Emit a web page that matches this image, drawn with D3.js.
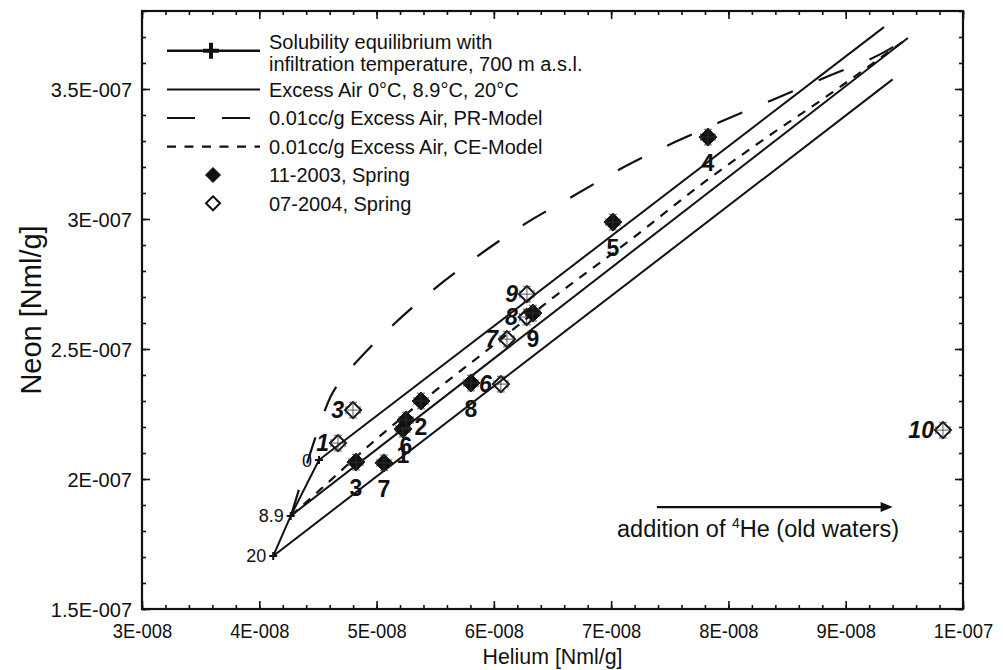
<!DOCTYPE html>
<html><head><meta charset="utf-8">
<script src="https://cdn.jsdelivr.net/npm/d3@7"></script>
<style>
body{margin:0;background:#fff}
svg{display:block}
text{font-family:Arial,"Liberation Sans",Helvetica,sans-serif;fill:#111}
</style>
</head><body>
<svg id="c" width="1003" height="670"></svg>
<script>
// ---------- data ----------
const xTickValues = [3e-8, 4e-8, 5e-8, 6e-8, 7e-8, 8e-8, 9e-8, 1e-7];
const xTickLabels = ["3E-008","4E-008","5E-008","6E-008","7E-008","8E-008","9E-008","1E-007"];
const yTickValues = [1.5e-7, 2e-7, 2.5e-7, 3e-7, 3.5e-7];
const yTickLabels = ["1.5E-007","2E-007","2.5E-007","3E-007","3.5E-007"];

// solubility equilibrium (700 m a.s.l.)
const eqTemps = ["0", "8.9", "20"];
const eqHe = [4.509e-8, 4.268e-8, 4.119e-8];
const eqNe = [2.073e-7, 1.858e-7, 1.704e-7];
// excess air (unfractionated) line end points, 0 / 8.9 / 20 °C
const eaEndHe = [9.326e-8, 9.530e-8, 9.40e-8];
const eaEndNe = [3.738e-7, 3.696e-7, 3.537e-7];

// 0.01cc/g excess air, PR-model
const prHe = [4.270e-8, 4.390e-8, 4.500e-8, 4.603e-8, 4.731e-8, 4.867e-8, 5.114e-8, 5.481e-8, 5.864e-8, 6.265e-8, 6.691e-8, 7.109e-8, 7.544e-8, 7.928e-8, 8.354e-8, 8.865e-8, 9.300e-8, 9.530e-8];
const prNe = [1.858e-7, 2.035e-7, 2.188e-7, 2.312e-7, 2.400e-7, 2.469e-7, 2.581e-7, 2.727e-7, 2.858e-7, 2.981e-7, 3.092e-7, 3.200e-7, 3.296e-7, 3.373e-7, 3.454e-7, 3.552e-7, 3.635e-7, 3.696e-7];
// 0.01cc/g excess air, CE-model
const ceHe = [4.270e-8, 4.517e-8, 4.969e-8, 5.455e-8, 5.967e-8, 6.478e-8, 7.143e-8, 7.783e-8, 8.209e-8, 8.880e-8, 9.530e-8];
const ceNe = [1.858e-7, 1.958e-7, 2.142e-7, 2.323e-7, 2.504e-7, 2.688e-7, 2.912e-7, 3.138e-7, 3.277e-7, 3.485e-7, 3.696e-7];

// 11-2003, Spring (filled)
const s2003Labels = ["1","2","3","4","5","6","7","8","9"];
const s2003He = [5.225e-8, 5.379e-8, 4.824e-8, 7.825e-8, 7.015e-8, 5.251e-8, 5.063e-8, 5.805e-8, 6.333e-8];
const s2003Ne = [2.192e-7, 2.300e-7, 2.065e-7, 3.315e-7, 2.988e-7, 2.227e-7, 2.062e-7, 2.369e-7, 2.638e-7];
const s2003HeErr = [0.06e-8, 0.06e-8, 0.06e-8, 0.06e-8, 0.06e-8, 0.06e-8, 0.06e-8, 0.06e-8, 0.06e-8];
const s2003NeErr = [0.03e-7, 0.03e-7, 0.03e-7, 0.03e-7, 0.03e-7, 0.03e-7, 0.03e-7, 0.03e-7, 0.03e-7];
// 07-2004, Spring (open)
const s2004Labels = ["1","3","6","7","8","9","10"];
const s2004He = [4.671e-8, 4.799e-8, 6.060e-8, 6.112e-8, 6.280e-8, 6.282e-8, 9.829e-8];
const s2004Ne = [2.138e-7, 2.265e-7, 2.365e-7, 2.538e-7, 2.623e-7, 2.711e-7, 2.188e-7];
const s2004HeErr = [0.06e-8, 0.06e-8, 0.06e-8, 0.06e-8, 0.06e-8, 0.06e-8, 0.06e-8];
const s2004NeErr = [0.03e-7, 0.03e-7, 0.03e-7, 0.03e-7, 0.03e-7, 0.03e-7, 0.03e-7];

const legendLabels = [
  ["Solubility equilibrium with", "infiltration temperature, 700 m a.s.l."],
  ["Excess Air 0°C, 8.9°C, 20°C"],
  ["0.01cc/g Excess Air, PR-Model"],
  ["0.01cc/g Excess Air, CE-Model"],
  ["11-2003, Spring"],
  ["07-2004, Spring"]
];
const arrowFromHe = 7.39e-8, arrowToHe = 9.40e-8, arrowNe = 1.892e-7;

// ---------- layout ----------
const L = 142, R = 963, T = 11, B = 609;
const svg = d3.select("#c");
const x = d3.scaleLinear().domain([3e-8, 1e-7]).range([L, R]);
const y = d3.scaleLinear().domain([1.5e-7, 3.8e-7]).range([B, T]);
const INK = "#111";

svg.append("defs").append("clipPath").attr("id","clip")
  .append("rect").attr("x",L).attr("y",T).attr("width",R-L).attr("height",B-T);
const plot = svg.append("g").attr("clip-path","url(#clip)");

const line = d3.line().x(d=>x(d[0])).y(d=>y(d[1]));
const curve = d3.line().x(d=>x(d[0])).y(d=>y(d[1])).curve(d3.curveMonotoneX);

// excess-air lines
eqHe.forEach((h,i)=>{
  plot.append("path").attr("d", line([[h, eqNe[i]],[eaEndHe[i], eaEndNe[i]]]))
    .attr("fill","none").attr("stroke",INK).attr("stroke-width",2);
});
// PR model
plot.append("path").attr("d", curve(prHe.map((h,i)=>[h,prNe[i]])))
  .attr("fill","none").attr("stroke",INK).attr("stroke-width",2.2).attr("stroke-dasharray","27,28");
// CE model
plot.append("path").attr("d", curve(ceHe.map((h,i)=>[h,ceNe[i]])))
  .attr("fill","none").attr("stroke",INK).attr("stroke-width",2.2).attr("stroke-dasharray","9,8");
// equilibrium line
plot.append("path").attr("d", line(eqHe.map((h,i)=>[h,eqNe[i]])))
  .attr("fill","none").attr("stroke",INK).attr("stroke-width",2);
eqHe.forEach((h,i)=>{
  const cx = x(h), cy = y(eqNe[i]);
  plot.append("path").attr("d",`M${cx-4},${cy}H${cx+4}M${cx},${cy-4}V${cy+4}`)
    .attr("stroke",INK).attr("stroke-width",2);
  svg.append("text").attr("x",cx-7).attr("y",cy).attr("dy","0.36em")
    .attr("text-anchor","end").attr("font-size",18).text(eqTemps[i]);
});

function diamond(g, cx, cy, r, filled){
  g.append("path").attr("d",`M${cx},${cy-r}L${cx+r},${cy}L${cx},${cy+r}L${cx-r},${cy}Z`)
    .attr("fill", filled ? INK : "none").attr("stroke",INK)
    .attr("stroke-width", filled ? 1 : 2);
}
function errbar(g, cx, cy, ex, ey){
  const c = 4;
  g.append("path").attr("d",
    `M${cx-ex},${cy}H${cx+ex}M${cx-ex},${cy-c}V${cy+c}M${cx+ex},${cy-c}V${cy+c}` +
    `M${cx},${cy-ey}V${cy+ey}M${cx-c},${cy-ey}H${cx+c}M${cx-c},${cy+ey}H${cx+c}`)
    .attr("fill","none").attr("stroke","#333").attr("stroke-width",0.8);
}

// open series
s2004He.forEach((h,i)=>{
  const cx = x(h), cy = y(s2004Ne[i]);
  diamond(plot, cx, cy, 8, false);
  errbar(plot, cx, cy, x(h+s2004HeErr[i])-cx, cy-y(s2004Ne[i]+s2004NeErr[i]));
  svg.append("text").attr("x",cx-9).attr("y",cy).attr("dy","0.36em")
    .attr("text-anchor","end").attr("font-size",23).attr("font-weight","bold")
    .attr("font-style","italic").text(s2004Labels[i]);
});
// filled series
s2003He.forEach((h,i)=>{
  const cx = x(h), cy = y(s2003Ne[i]);
  diamond(plot, cx, cy, 9, true);
  errbar(plot, cx, cy, x(h+s2003HeErr[i])-cx, cy-y(s2003Ne[i]+s2003NeErr[i]));
  svg.append("text").attr("x",cx).attr("y",cy+26).attr("dy","0.36em")
    .attr("text-anchor","middle").attr("font-size",23).attr("font-weight","bold")
    .text(s2003Labels[i]);
});

// ---------- axes ----------
const xMinor = d3.range(30, 101, 2).map(v=>v*1e-9);
const yMinor = d3.range(15, 39, 1).map(v=>v*1e-8);
function styleAxis(g){ g.select(".domain").remove(); g.selectAll("line").attr("stroke",INK).attr("stroke-width",1.6); }

svg.append("g").attr("transform",`translate(0,${B})`)
  .call(d3.axisBottom(x).tickValues(xMinor).tickSize(-4).tickFormat("")).call(styleAxis);
svg.append("g").attr("transform",`translate(0,${T})`)
  .call(d3.axisTop(x).tickValues(xMinor).tickSize(-4).tickFormat("")).call(styleAxis);
svg.append("g").attr("transform",`translate(${L},0)`)
  .call(d3.axisLeft(y).tickValues(yMinor).tickSize(-4).tickFormat("")).call(styleAxis);
svg.append("g").attr("transform",`translate(${R},0)`)
  .call(d3.axisRight(y).tickValues(yMinor).tickSize(-4).tickFormat("")).call(styleAxis);

const xb = svg.append("g").attr("transform",`translate(0,${B})`)
  .call(d3.axisBottom(x).tickValues(xTickValues).tickSize(-8)
    .tickFormat((d,i)=>xTickLabels[i])).call(styleAxis);
xb.selectAll("text").attr("y",15).attr("dy","0.71em").attr("font-size",20)
  .attr("font-family","Arial, 'Liberation Sans', sans-serif").attr("fill","#111")
  .attr("transform","scale(0.92,1)");
svg.append("g").attr("transform",`translate(0,${T})`)
  .call(d3.axisTop(x).tickValues(xTickValues).tickSize(-8).tickFormat("")).call(styleAxis);
const yl = svg.append("g").attr("transform",`translate(${L},0)`)
  .call(d3.axisLeft(y).tickValues(yTickValues).tickSize(-8)
    .tickFormat((d,i)=>yTickLabels[i])).call(styleAxis);
yl.selectAll("text").attr("x",-10).attr("dy","0.36em").attr("font-size",20)
  .attr("font-family","Arial, 'Liberation Sans', sans-serif").attr("fill","#111");
svg.append("g").attr("transform",`translate(${R},0)`)
  .call(d3.axisRight(y).tickValues(yTickValues).tickSize(-8).tickFormat("")).call(styleAxis);

svg.append("rect").attr("x",L).attr("y",T).attr("width",R-L).attr("height",B-T)
  .attr("fill","none").attr("stroke",INK).attr("stroke-width",2.2);

// axis titles
svg.append("text").attr("transform",`translate(${(L+R)/2},664) scale(0.95,1)`)
  .attr("text-anchor","middle").attr("font-size",22.5).text("Helium [Nml/g]");
svg.append("text").attr("transform",`translate(41,${(T+B)/2}) rotate(-90)`)
  .attr("text-anchor","middle").attr("font-size",29).text("Neon [Nml/g]");

// ---------- legend ----------
const lg = svg.append("g");
const lx0 = 167, lx1 = 260, tx = 269;
const rowY = [50.7, 89.5, 118, 146.7, 175, 203.3];
lg.append("line").attr("x1",lx0).attr("x2",lx1).attr("y1",rowY[0]).attr("y2",rowY[0]).attr("stroke",INK).attr("stroke-width",2.4);
lg.append("path").attr("d",`M${211-8},${rowY[0]}H${211+8}M211,${rowY[0]-8}V${rowY[0]+8}`).attr("stroke",INK).attr("stroke-width",4);
lg.append("line").attr("x1",lx0).attr("x2",lx1).attr("y1",rowY[1]).attr("y2",rowY[1]).attr("stroke",INK).attr("stroke-width",2.2);
lg.append("line").attr("x1",lx0).attr("x2",lx1).attr("y1",rowY[2]).attr("y2",rowY[2]).attr("stroke",INK).attr("stroke-width",2.2).attr("stroke-dasharray","28,27");
lg.append("line").attr("x1",lx0).attr("x2",lx1).attr("y1",rowY[3]).attr("y2",rowY[3]).attr("stroke",INK).attr("stroke-width",2.2).attr("stroke-dasharray","9,8.5");
diamond(lg, 213, rowY[4], 7.5, true);
diamond(lg, 213, rowY[5], 7, false);
lg.append("text").attr("x",tx).attr("y",41.7).attr("dy","0.36em").attr("font-size",20).text(legendLabels[0][0]);
lg.append("text").attr("x",tx).attr("y",63.3).attr("dy","0.36em").attr("font-size",20).text(legendLabels[0][1]);
for (let i=1;i<legendLabels.length;i++){
  lg.append("text").attr("x",tx).attr("y",rowY[i]).attr("dy","0.36em").attr("font-size",20).text(legendLabels[i][0]);
}

// ---------- annotation ----------
const ay = y(arrowNe);
svg.append("line").attr("x1",x(arrowFromHe)).attr("x2",x(arrowToHe)-8).attr("y1",ay).attr("y2",ay)
  .attr("stroke",INK).attr("stroke-width",2.2);
svg.append("path").attr("d",`M${x(arrowToHe)},${ay}L${x(arrowToHe)-12},${ay-5}L${x(arrowToHe)-12},${ay+5}Z`).attr("fill",INK);
const at = svg.append("text").attr("x",617).attr("y",537).attr("font-size",23.5);
at.append("tspan").text("addition of ");
at.append("tspan").attr("font-size",14).attr("dy",-9).text("4");
at.append("tspan").attr("dy",9).text("He (old waters)");
</script>
</body></html>
